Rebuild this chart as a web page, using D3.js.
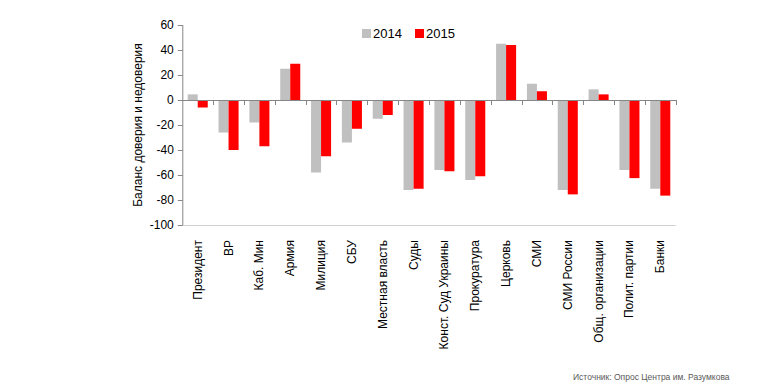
<!DOCTYPE html>
<html>
<head>
<meta charset="utf-8">
<script src="https://cdn.jsdelivr.net/npm/d3@7"></script>
<style>
  body { margin: 0; background: #fff; }
  text { font-family: "Liberation Sans", Arial, sans-serif; }
</style>
</head>
<body>
<script>
var categorias = ["Президент", "ВР", "Каб. Мин", "Армия", "Милиция", "СБУ", "Местная власть", "Суды",
    "Конст. Суд Украины", "Прокуратура", "Церковь", "СМИ", "СМИ России", "Общ. организации",
    "Полит. партии", "Банки"];
var serie2014 = [4.5, -26, -18, 25, -58, -34, -15, -72, -56, -64, 45, 13, -72, 8.5, -56, -71];
var serie2015 = [-6, -40, -37, 29, -45, -23, -12, -71, -57, -61, 44, 7, -75.5, 4.5, -62.5, -76.5];
var anios = ["2014", "2015"];
var ticksY = [60, 40, 20, 0, -20, -40, -60, -80, -100];

var w = 784, h = 391;
var x0 = 182.3, x1 = 675.7, yTop = 25, yBot = 225;
var colores = { "2014": "#c0c0c0", "2015": "#ff0000" };

var svg = d3.select("body").append("svg")
    .attr("width", w)
    .attr("height", h);

var x = d3.scaleBand().domain(categorias).range([x0, x1]).padding(0);
var xs = d3.scaleBand().domain(anios).range([5.4, x.bandwidth() - 5.4]).padding(0);
var y = d3.scaleLinear().domain([-100, 60]).range([yBot, yTop]);

var datos = categorias.map(function(c, i) {
    return { cat: c, valores: [{ k: "2014", v: serie2014[i] }, { k: "2015", v: serie2015[i] }] };
});

// linea inferior gris claro
svg.append("line")
    .attr("x1", x0).attr("x2", x1)
    .attr("y1", y(-100) + 0.5).attr("y2", y(-100) + 0.5)
    .attr("stroke", "#d0d0d0").attr("stroke-width", 1);

// barras
svg.selectAll("g.grupo")
    .data(datos)
    .enter()
    .append("g")
    .attr("class", "grupo")
    .attr("transform", function(d) { return "translate(" + x(d.cat) + ",0)"; })
    .selectAll("rect")
    .data(function(d) { return d.valores; })
    .enter()
    .append("rect")
    .attr("x", function(d) { return xs(d.k); })
    .attr("width", xs.bandwidth())
    .attr("y", function(d) { return y(Math.max(0, d.v)); })
    .attr("height", function(d) { return Math.abs(y(d.v) - y(0)); })
    .attr("fill", function(d) { return colores[d.k]; });

// eje Y
var ejeY = svg.append("g")
    .attr("transform", "translate(" + (x0 + 0.5) + ",0)")
    .call(d3.axisLeft(y).tickValues(ticksY).tickSize(5).tickPadding(4)
        .tickFormat(function(d) { return String(d); }));
ejeY.select(".domain").attr("stroke", "#868686").attr("d", "M0," + yTop + "V" + yBot);
ejeY.selectAll(".tick line").attr("stroke", "#868686");
ejeY.selectAll(".tick text").attr("font-size", 12).attr("fill", "#000")
    .attr("font-family", "Liberation Sans, Arial, sans-serif");

// eje X en cero, ticks en los limites de categoria
var limites = categorias.map(function(c) { return x(c); }).concat([x1]);
svg.append("line")
    .attr("x1", x0).attr("x2", x1 + 0.5)
    .attr("y1", y(0) + 0.5).attr("y2", y(0) + 0.5)
    .attr("stroke", "#868686");
svg.selectAll("line.tx")
    .data(limites.slice(1))
    .enter()
    .append("line")
    .attr("class", "tx")
    .attr("x1", function(d) { return Math.round(d) + 0.5; })
    .attr("x2", function(d) { return Math.round(d) + 0.5; })
    .attr("y1", y(0)).attr("y2", y(0) + 5)
    .attr("stroke", "#868686");

// etiquetas de categorias
svg.selectAll("text.cat")
    .data(categorias)
    .enter()
    .append("text")
    .attr("class", "cat")
    .attr("transform", function(d) {
        return "translate(" + (x(d) + x.bandwidth() / 2 + 4) + ",240) rotate(-90)";
    })
    .attr("text-anchor", "end")
    .attr("font-size", 12)
    .text(function(d) { return d; });

// titulo eje Y
svg.append("text")
    .attr("transform", "translate(142," + ((yTop + yBot) / 2) + ") rotate(-90)")
    .attr("text-anchor", "middle")
    .attr("font-size", 12)
    .text("Баланс доверия и недоверия");

// leyenda
var ley = svg.selectAll("g.ley")
    .data(anios)
    .enter()
    .append("g")
    .attr("class", "ley")
    .attr("transform", function(d, i) { return "translate(" + (362 + i * 53) + ",29)"; });
ley.append("rect").attr("width", 9).attr("height", 9)
    .attr("fill", function(d) { return colores[d]; });
ley.append("text").attr("x", 11).attr("y", 9)
    .attr("font-size", 13)
    .text(function(d) { return d; });

// fuente
svg.append("text")
    .attr("x", 573).attr("y", 380)
    .attr("font-size", 8.5)
    .attr("fill", "#595959")
    .attr("font-family", "Open Sans, sans-serif")
    .text("Источник: Опрос Центра им. Разумкова");
</script>
</body>
</html>
